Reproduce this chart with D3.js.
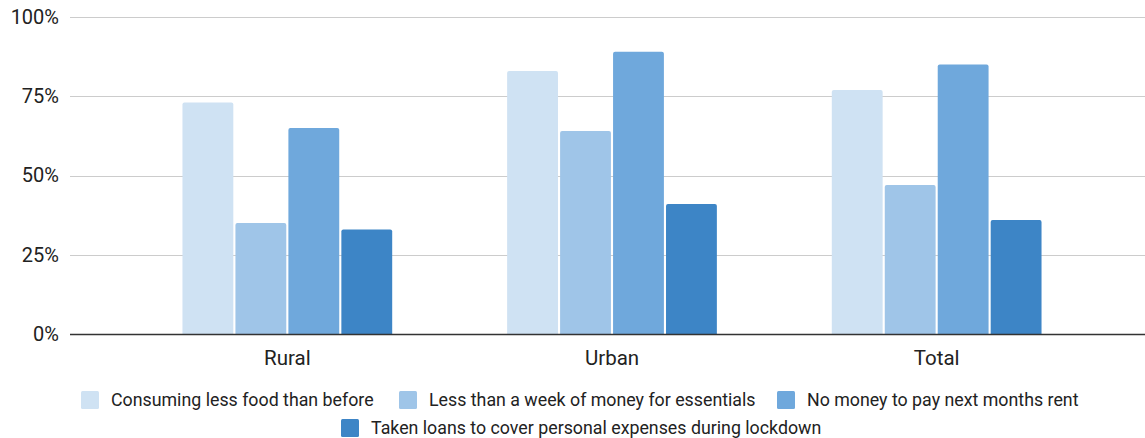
<!DOCTYPE html>
<html>
<head>
<meta charset="utf-8">
<script src="https://cdn.jsdelivr.net/npm/d3@7"></script>
<style>
  body { margin: 0; background: #fff; }
  svg { display: block; font-family: Roboto, "Noto Sans", sans-serif; }
</style>
</head>
<body>
<svg id="chart" width="1145" height="438"></svg>
<script>
// Survey groups and the share (%) of respondents in each hardship category
const categories = ["Rural", "Urban", "Total"];
const seriesNames = [
  "Consuming less food than before",
  "Less than a week of money for essentials",
  "No money to pay next months rent",
  "Taken loans to cover personal expenses during lockdown"
];
const lessFood = [73, 83, 77];
const lessThanWeek = [35, 64, 47];
const noRent = [65, 89, 85];
const takenLoans = [33, 41, 36];
const seriesValues = [lessFood, lessThanWeek, noRent, takenLoans];
const yTicks = [0, 25, 50, 75, 100];
const colors = ["#cfe2f3", "#9fc5e8", "#6fa8dc", "#3d85c6"];

const svg = d3.select("#chart");
const gridLeft = 70, gridRight = 1145;
const plotTop = 17, plotBottom = 334;

const y = d3.scaleLinear().domain([0, 100]).range([plotBottom, plotTop]);
const x0 = d3.scaleBand().domain(categories).range([125, 1099]).paddingInner(0.354).paddingOuter(0.177);
const x1 = d3.scaleBand().domain(d3.range(seriesNames.length)).range([0, x0.bandwidth()]).paddingInner(0.04);

// Horizontal gridlines
svg.append("g").selectAll("line").data(yTicks.filter(t => t > 0)).join("line")
  .attr("x1", gridLeft).attr("x2", gridRight)
  .attr("y1", d => Math.round(y(d)) + 0.5).attr("y2", d => Math.round(y(d)) + 0.5)
  .attr("stroke", "#cccccc").attr("stroke-width", 1);

// Y tick labels
const yAxis = svg.append("g").attr("transform", `translate(${gridLeft},0)`)
  .call(d3.axisLeft(y).tickValues(yTicks).tickFormat(d => d + "%").tickSize(0).tickPadding(11));
yAxis.select(".domain").remove();
yAxis.selectAll("text").attr("font-size", 20).attr("fill", "#222").attr("font-family", "Roboto");

// Bars with slightly rounded top corners
function barPath(x, yTop, w, h, r) {
  return `M${x},${yTop + h}V${yTop + r}Q${x},${yTop} ${x + r},${yTop}H${x + w - r}Q${x + w},${yTop} ${x + w},${yTop + r}V${yTop + h}Z`;
}
const groups = svg.append("g").selectAll("g").data(categories).join("g")
  .attr("transform", d => `translate(${x0(d)},0)`);
groups.selectAll("path").data((c, ci) => seriesValues.map((vals, si) => ({ si, v: vals[ci] }))).join("path")
  .attr("d", d => barPath(x1(d.si), y(d.v), x1.bandwidth(), plotBottom - y(d.v), 2))
  .attr("fill", d => colors[d.si]);

// Baseline and category labels
svg.append("line").attr("x1", gridLeft).attr("x2", gridRight)
  .attr("y1", plotBottom + 0.5).attr("y2", plotBottom + 0.5)
  .attr("stroke", "#333").attr("stroke-width", 1.3);
const xAxis = svg.append("g").attr("transform", `translate(0,${plotBottom})`)
  .call(d3.axisBottom(x0).tickSize(0).tickPadding(16));
xAxis.select(".domain").remove();
xAxis.selectAll("text").attr("font-size", 20.5).attr("fill", "#222").attr("font-family", "Roboto");

// Legend
const legendRows = [
  [{ i: 0, x: 81 }, { i: 1, x: 399 }, { i: 2, x: 777 }],
  [{ i: 3, x: 341 }]
];
const rowY = [400, 428];
legendRows.forEach((row, ri) => {
  const g = svg.append("g");
  row.forEach(item => {
    g.append("rect").attr("x", item.x).attr("y", rowY[ri] - 9).attr("width", 18).attr("height", 18)
      .attr("rx", 1.5).attr("fill", colors[item.i]);
    g.append("text").attr("x", item.x + 30).attr("y", rowY[ri]).attr("dy", "0.35em")
      .attr("font-size", 17.8).attr("fill", "#222").text(seriesNames[item.i]);
  });
});
</script>
</body>
</html>
